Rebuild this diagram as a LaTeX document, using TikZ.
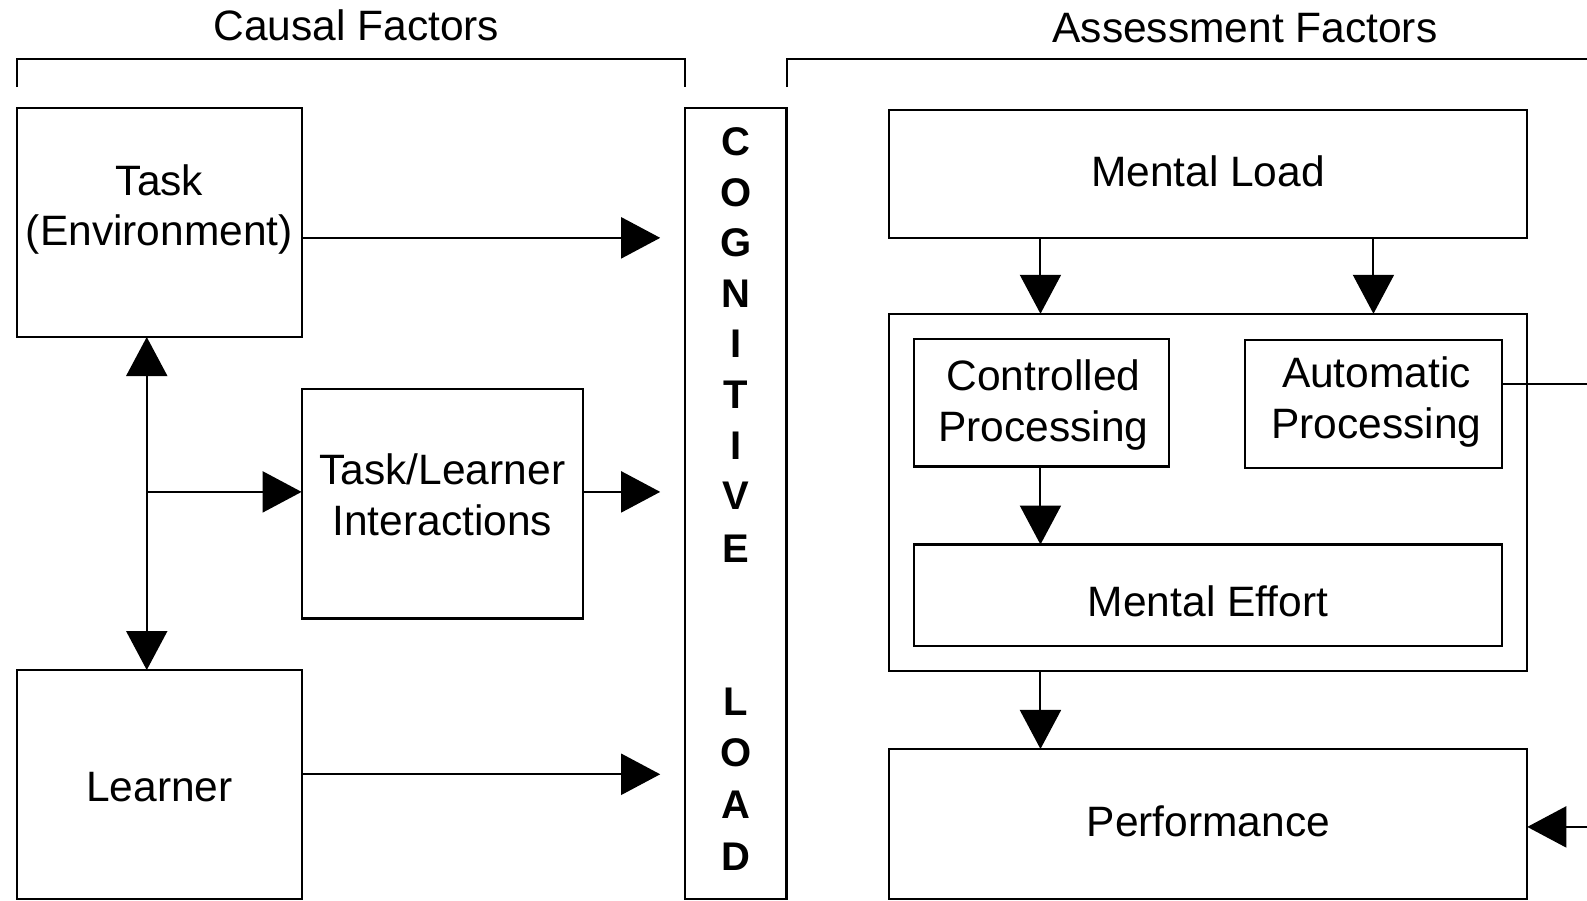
\documentclass[tikz,border=0pt]{standalone}
\usepackage{fontspec}
\setmainfont{Liberation Sans}
\usetikzlibrary{arrows.meta,fit}
\begin{document}
\begin{tikzpicture}[x=1.0121pt,y=-1.0121pt,
  box/.style={draw,line width=2.2pt,rectangle,inner sep=0pt,outer sep=0pt},
  txt/.style={font=\fontsize{42.5}{50.6}\selectfont,align=center,inner sep=0pt},
  ltr/.style={font=\fontsize{40}{46}\selectfont\bfseries,inner sep=0pt},
  arr/.style={line width=2pt,-{Triangle[length=39pt,width=41pt]}},
  arrb/.style={line width=2pt,{Triangle[length=39pt,width=41pt]}-{Triangle[length=39pt,width=41pt]}},
  plain/.style={line width=2pt}]
\useasboundingbox (0,0) rectangle (1568,889.25);
% titles and brackets
\node[txt] (tcausal) at (352,25) {Causal Factors};
\node[txt] (tassess) at (1230,28) {Assessment Factors};
\draw[plain] (17,86) -- (17,58) -- (677,58) -- (677,86);
\draw[plain] (778,86) -- (778,58) -- (1568,58);
% left side boxes
\node[box,fit={(17,107) (298,333)}] (task) {};
\node[txt] (tasktxt) at (157.5,207) {Task\\(Environment)};
\node[box,fit={(298,384) (576,611)}] (tl) {};
\node[txt] (tltxt) at (437,489) {Task/Learner\\Interactions};
\node[box,fit={(17,662) (298,888)}] (learner) {};
\node[txt] (learnertxt) at (157.5,778) {Learner};
% cognitive load column
\node[box,fit={(677,107) (777,888)}] (cl) {};
\foreach \l/\y in {C/140,O/190,G/240,N/290,I/340,T/390,I/440,V/490,E/542,L/693,O/744,A/795,D/846}
  \node[ltr] at (727,\y) {\l};
% right side boxes
\node[box,fit={(878,109) (1509,235)}] (ml) {};
\node[txt] (mltxt) at (1193.5,169) {Mental Load};
\node[box,fit={(878,310) (1509,663)}] (outer) {};
\node[box,fit={(903,335) (1155,461)}] (cp) {};
\node[txt] (cptxt) at (1031,400) {Controlled\\Processing};
\node[box,fit={(1230,336) (1484,462)}] (ap) {};
\node[txt] (aptxt) at (1360,397) {Automatic\\Processing};
\node[box,fit={(903,538) (1484,638)}] (me) {};
\node[txt] (metxt) at (1193.5,594) {Mental Effort};
\node[box,fit={(878,740) (1509,888)}] (perf) {};
\node[txt] (perftxt) at (1194,811) {Performance};
% free ends
\coordinate (junc) at (145,486);
\coordinate (apend) at (1568,379);
\coordinate (perfin) at (1568,817);
% left arrows
\draw[arr,shorten >=25pt] (task.east |- 0,235) -- (cl.west |- 0,235);
\draw[arrb] (task.south -| junc) -- (learner.north -| junc);
\draw[arr] (junc) -- (junc -| tl.west);
\draw[arr,shorten >=25pt] (junc -| tl.east) -- (junc -| cl.west);
\draw[arr,shorten >=25pt] (learner.east |- 0,765) -- (cl.west |- 0,765);
% right arrows
\draw[arr] (ml.south -| 1028,0) -- (outer.north -| 1028,0);
\draw[arr] (ml.south -| 1357,0) -- (outer.north -| 1357,0);
\draw[arr] (cp.south -| 1028,0) -- (me.north -| 1028,0);
\draw[arr] (outer.south -| 1028,0) -- (perf.north -| 1028,0);
\draw[plain] (apend -| ap.east) -- (apend);
\draw[arr] (perfin) -- (perfin -| perf.east);
\end{tikzpicture}
\end{document}
